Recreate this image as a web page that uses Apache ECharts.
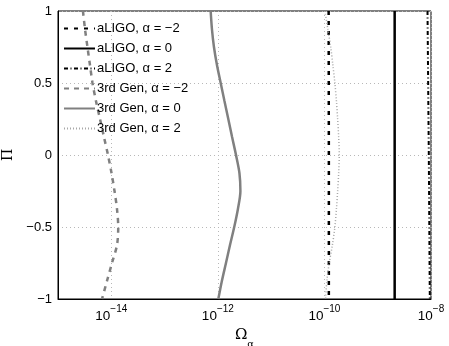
<!DOCTYPE html>
<html>
<head>
<meta charset="utf-8">
<script src="https://cdn.jsdelivr.net/npm/echarts@6/dist/echarts.min.js"></script>
<style>
  html, body { margin: 0; padding: 0; background: #fff; }
  #chart { width: 449px; height: 346px; }
</style>
</head>
<body>
<div id="chart"></div>
<script>
// Pi values (y) and Omega_alpha values (x)
const piStraight = [1, 0, -1];
const aligoM2 = [1.2e-10, 1.21e-10, 1.21e-10];
const aligo0 = [2.08e-9, 2.08e-9, 2.08e-9];
const aligoP2 = [8.6e-9, 9.1e-9, 9.5e-9];

const piCurve = [1, 0.875, 0.75, 0.625, 0.5, 0.375, 0.25, 0.125, 0,
  -0.125, -0.25, -0.375, -0.5, -0.625, -0.75, -0.875, -1];
const gen3M2 = [2.94e-15, 3.21e-15, 3.57e-15, 3.98e-15, 4.44e-15, 5.16e-15, 6.14e-15, 7.29e-15, 8.67e-15,
  1.01e-14, 1.15e-14, 1.28e-14, 1.35e-14, 1.28e-14, 1.03e-14, 8.3e-15, 6.7e-15];
const gen3Zero = [7.33e-13, 7.74e-13, 8.45e-13, 9.62e-13, 1.13e-12, 1.33e-12, 1.57e-12, 1.85e-12, 2.19e-12,
  2.54e-12, 2.65e-12, 2.38e-12, 2.03e-12, 1.69e-12, 1.42e-12, 1.19e-12, 1.02e-12];
const gen3P2 = [1.02e-10, 1.16e-10, 1.31e-10, 1.44e-10, 1.57e-10, 1.68e-10, 1.77e-10, 1.85e-10, 1.9e-10,
  1.85e-10, 1.77e-10, 1.68e-10, 1.57e-10, 1.41e-10, 1.23e-10, 1.11e-10, 1.05e-10];

const names = [
  'aLIGO, \u03b1 = \u22122', 'aLIGO, \u03b1 = 0', 'aLIGO, \u03b1 = 2',
  '3rd Gen, \u03b1 = \u22122', '3rd Gen, \u03b1 = 0', '3rd Gen, \u03b1 = 2'
];

function pairs(xs, ys) {
  return xs.map((x, i) => [x, ys[i]]);
}

function mkLine(name, xs, ys, color, width, type, smooth) {
  return {
    name: name,
    type: 'line',
    data: pairs(xs, ys),
    symbol: 'none',
    smooth: smooth ? 0.3 : false,
    lineStyle: { color: color, width: width, type: type },
    itemStyle: { color: color },
    z: 3
  };
}

const chart = echarts.init(document.getElementById('chart'));

const font = 'Liberation Sans, Arial, Helvetica, sans-serif';

chart.setOption({
  animation: false,
  grid: {
    left: 58, right: 18, top: 11, bottom: 47,
    containLabel: false, outerBoundsMode: 'none',
    show: true, borderColor: '#000', borderWidth: 1
  },
  legend: {
    orient: 'vertical',
    left: 63,
    top: 22,
    itemWidth: 31,
    itemHeight: 12,
    itemGap: 7,
    padding: 0,
    itemStyle: { color: 'rgba(0,0,0,0)', borderWidth: 0 },
    textStyle: { fontFamily: font, fontSize: 13, color: '#000', padding: [0, 0, 0, -3] },
    data: names
  },
  xAxis: {
    type: 'log',
    logBase: 10,
    min: 1e-15,
    max: 1e-8,
    name: '{o|\u03a9}{s|\u03b1}',
    nameLocation: 'middle',
    nameGap: 25,
    nameTextStyle: {
      rich: {
        o: { fontFamily: 'DejaVu Serif, serif', fontSize: 15, color: '#000', verticalAlign: 'top', lineHeight: 22 },
        s: { fontFamily: 'DejaVu Serif, serif', fontSize: 10, color: '#000', verticalAlign: 'bottom', lineHeight: 22 }
      }
    },
    axisLine: { onZero: false, lineStyle: { color: '#000' } },
    axisTick: { show: false },
    axisLabel: {
      margin: 5,
      formatter: function (v) {
        const e = Math.round(Math.log10(v));
        if (e % 2 !== 0) return '';
        return '{b|10}{s|\u2212' + Math.abs(e) + '}';
      },
      rich: {
        b: { fontFamily: font, fontSize: 13.5, color: '#000', verticalAlign: 'bottom', lineHeight: 19 },
        s: { fontFamily: font, fontSize: 10, color: '#000', verticalAlign: 'top', lineHeight: 19 }
      }
    },
    splitLine: {
      show: true,
      lineStyle: { color: ['rgba(0,0,0,0)', '#b8b8b8'], type: [1, 3], width: 1 }
    }
  },
  yAxis: {
    type: 'value',
    min: -1,
    max: 1,
    interval: 0.5,
    name: '\u03a0',
    nameLocation: 'middle',
    nameGap: 42,
    nameTextStyle: { fontFamily: 'DejaVu Serif, serif', fontSize: 14, color: '#000' },
    axisLine: { onZero: false, lineStyle: { color: '#000' } },
    axisTick: { show: false },
    axisLabel: {
      margin: 6,
      fontFamily: font,
      fontSize: 13,
      color: '#000',
      formatter: function (v) {
        return v < 0 ? '\u2212' + Math.abs(v) : String(v);
      }
    },
    splitLine: { show: true, lineStyle: { color: '#b8b8b8', type: [1, 3], width: 1 } }
  },
  series: [
    mkLine(names[0], aligoM2, piStraight, '#000', 2.5, [4, 6], false),
    mkLine(names[1], aligo0, piStraight, '#000', 2.5, 'solid', false),
    mkLine(names[2], aligoP2, piStraight, '#000', 2, [4, 2.5, 1, 2.5], false),
    mkLine(names[3], gen3M2, piCurve, '#808080', 2.5, [5, 5], true),
    mkLine(names[4], gen3Zero, piCurve, '#808080', 2.5, 'solid', true),
    mkLine(names[5], gen3P2, piCurve, '#a8a8a8', 1.5, [1, 2], true)
  ]
});
</script>
</body>
</html>
